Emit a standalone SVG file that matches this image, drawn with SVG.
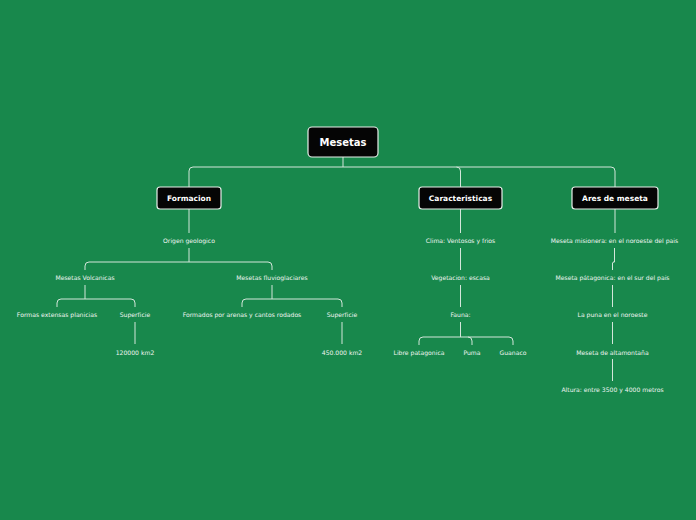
<svg xmlns="http://www.w3.org/2000/svg" width="696" height="520" viewBox="0 0 696 520">
<style>
.bg{fill:#18884c}
.box{fill:#050505;stroke:#e8efe9;stroke-width:1.2}
.t{font-family:"DejaVu Sans",Verdana,sans-serif;font-size:6.1px;fill:#f0f5f1;text-anchor:middle;dominant-baseline:central}
.b{font-family:"DejaVu Sans",Verdana,sans-serif;font-weight:bold;fill:#ffffff;text-anchor:middle;dominant-baseline:central}
.c path{fill:none;stroke:#d3e6da;stroke-width:1}
</style>
<rect class="bg" x="0" y="0" width="696" height="520"/>
<g class="c" id="connectors">
<path d="M343 157V167M189 187V171Q189 167 193 167H611Q615 167 615 171V187M456.5 167Q460.5 167 460.5 171V187"/>
<path d="M189 209V233M189 248V262M85 270V266Q85 262 89 262H268Q272 262 272 266V270"/>
<path d="M85 285V299M57 307V303Q57 299 61 299H131Q135 299 135 303V307M135 322V344"/>
<path d="M272 285V299M242 307V303Q242 299 246 299H338Q342 299 342 303V307M342 322V344"/>
<path d="M460.5 209V233M460.5 248V270M460.5 285V307M460.5 322V337M419 345V341Q419 337 423 337H509Q513 337 513 341V345M468 337Q472 337 472 341V345"/>
<path d="M615 209V233M614.5 248V262H613V263M612.5 263V270M612.5 285V307M612.5 322V344M612.5 359V381"/>
</g>
<g id="mesetas"><rect class="box" x="308" y="127" width="70" height="30" rx="4"/><text class="b" x="343" y="142" font-size="10">Mesetas</text></g>
<g id="formacion"><rect class="box" x="157" y="187" width="64" height="22" rx="3"/><text class="b" x="189" y="198" font-size="7.5">Formacion</text></g>
<g id="caracteristicas"><rect class="box" x="419" y="187" width="83" height="22" rx="3"/><text class="b" x="460.5" y="198" font-size="7.5">Caracteristicas</text></g>
<g id="ares"><rect class="box" x="572" y="187" width="86" height="22" rx="3"/><text class="b" x="615" y="198" font-size="7.5">Ares de meseta</text></g>
<g id="origen"><text class="t" x="189" y="240">Origen geologico</text></g>
<g id="volcanicas"><text class="t" x="85" y="277">Mesetas Volcanicas</text></g>
<g id="fluvio"><text class="t" x="272" y="277">Mesetas fluvioglaciares</text></g>
<g id="formas"><text class="t" x="57" y="314">Formas extensas planicias</text></g>
<g id="sup1"><text class="t" x="135" y="314">Superficie</text></g>
<g id="km1"><text class="t" x="135" y="352">120000 km2</text></g>
<g id="formados"><text class="t" x="242" y="314">Formados por arenas y cantos rodados</text></g>
<g id="sup2"><text class="t" x="342" y="314">Superficie</text></g>
<g id="km2"><text class="t" x="342" y="352">450.000 km2</text></g>
<g id="clima"><text class="t" x="460.5" y="240">Clima: Ventosos y frios</text></g>
<g id="veg"><text class="t" x="460.5" y="277">Vegetacion: escasa</text></g>
<g id="fauna"><text class="t" x="460.5" y="314">Fauna:</text></g>
<g id="libre"><text class="t" x="419" y="352">Libre patagonica</text></g>
<g id="puma"><text class="t" x="472" y="352">Puma</text></g>
<g id="guanaco"><text class="t" x="513" y="352">Guanaco</text></g>
<g id="misionera"><text class="t" x="614.5" y="240">Meseta misionera: en el noroeste del pais</text></g>
<g id="patagonica"><text class="t" x="612.5" y="277">Meseta pátagonica: en el sur del pais</text></g>
<g id="puna"><text class="t" x="612.5" y="314">La puna en el noroeste</text></g>
<g id="alta"><text class="t" x="612.5" y="352">Meseta de altamontaña</text></g>
<g id="altura"><text class="t" x="612.5" y="389">Altura: entre 3500 y 4000 metros</text></g>
</svg>
